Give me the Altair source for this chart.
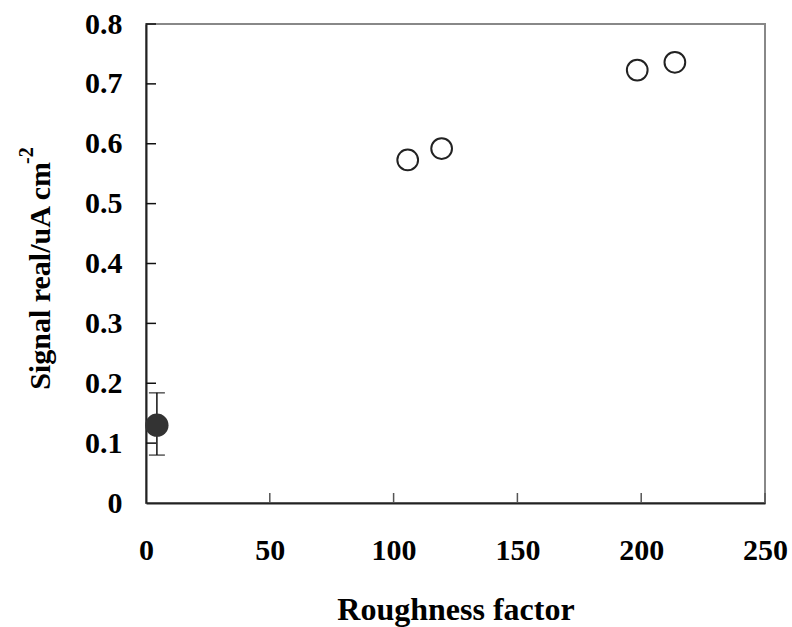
import altair as alt
import pandas as pd

# Reference electrode (filled) with its error bar
flat_x = [4.4]
flat_y = [0.130]
flat_lo = [0.080]
flat_hi = [0.184]

# Roughened electrodes (open circles)
rough_x = [105.7, 119.4, 198.4, 213.6]
rough_y = [0.573, 0.592, 0.723, 0.736]

x_ticks = [0, 50, 100, 150, 200, 250]
y_ticks = [0, 0.1, 0.2, 0.3, 0.4, 0.5, 0.6, 0.7, 0.8]

W, H = 619, 479
FONT = "Liberation Serif"

flat_df = pd.DataFrame({"x": flat_x, "y": flat_y, "lo": flat_lo, "hi": flat_hi})
rough_df = pd.DataFrame({"x": rough_x, "y": rough_y})

x_scale = alt.Scale(domain=[0, 250], nice=False, zero=False)
y_scale = alt.Scale(domain=[0, 0.8], nice=False, zero=False)

x_axis = alt.Axis(values=x_ticks, ticks=False, tickSize=0, grid=False,
                  labelPadding=32, title="Roughness factor", titlePadding=29,
                  labelFontSize=30, titleFontSize=32, labelFlush=False)
y_axis = alt.Axis(values=y_ticks, ticks=False, tickSize=0, grid=False,
                  labelPadding=24, title=None, labelFontSize=30,
                  labelExpr="datum.value == 0 ? '0' : format(datum.value, '.1f')",
                  labelFlush=False)

base_x = alt.X("x:Q", scale=x_scale, axis=x_axis)
base_y = alt.Y("y:Q", scale=y_scale, axis=y_axis)

rough = alt.Chart(rough_df).mark_point(
    shape="circle", filled=False, size=430, stroke="#222222", strokeWidth=2, opacity=1
).encode(x=base_x, y=base_y)

err = alt.Chart(flat_df).mark_rule(color="#111111", strokeWidth=1.5).encode(
    x=alt.X("x:Q", scale=x_scale), y=alt.Y("lo:Q", scale=y_scale), y2="hi:Q"
)
cap_lo = alt.Chart(flat_df).mark_tick(color="#111111", thickness=1.5, size=16, orient="horizontal").encode(
    x=alt.X("x:Q", scale=x_scale), y=alt.Y("lo:Q", scale=y_scale)
)
cap_hi = alt.Chart(flat_df).mark_tick(color="#111111", thickness=1.5, size=16, orient="horizontal").encode(
    x=alt.X("x:Q", scale=x_scale), y=alt.Y("hi:Q", scale=y_scale)
)
flat = alt.Chart(flat_df).mark_point(
    shape="circle", filled=True, size=540, color="#333333", opacity=1
).encode(x=alt.X("x:Q", scale=x_scale), y=alt.Y("y:Q", scale=y_scale))

# inward tick marks
xt_df = pd.DataFrame({"x": x_ticks[1:]})
yt_df = pd.DataFrame({"y": y_ticks[1:]})
x_tick_marks = alt.Chart(xt_df).mark_rule(color="#555555", strokeWidth=1.5).encode(
    x=alt.X("x:Q", scale=x_scale), y=alt.value(H), y2=alt.value(H - 10)
)
y_tick_marks = alt.Chart(yt_df).mark_rule(color="#111111", strokeWidth=1.5).encode(
    y=alt.Y("y:Q", scale=y_scale), x=alt.value(0), x2=alt.value(10)
)

# y-axis title with superscript exponent
ytitle = alt.Chart(pd.DataFrame({"t": ["Signal real/uA cm"]})).mark_text(
    angle=270, align="right", baseline="alphabetic", font=FONT, fontWeight="bold",
    fontSize=30, color="black"
).encode(text="t:N", x=alt.value(-96), y=alt.value(138))
ysup = alt.Chart(pd.DataFrame({"t": ["-2"]})).mark_text(
    angle=270, align="left", baseline="alphabetic", font=FONT, fontWeight="bold",
    fontSize=20, color="black"
).encode(text="t:N", x=alt.value(-113), y=alt.value(140))

chart = alt.layer(
    x_tick_marks, y_tick_marks, err, cap_lo, cap_hi, flat, rough, ytitle, ysup
).properties(
    width=W, height=H,
    background="white",
    autosize=alt.AutoSizeParams(type="none"),
    padding={"left": 146, "top": 24, "right": 27, "bottom": 124},
).configure_view(
    stroke="#888888", strokeWidth=2
).configure_axis(
    labelFont=FONT, titleFont=FONT, labelFontWeight="bold", titleFontWeight="bold",
    labelColor="black", titleColor="black", domainColor="#222222", domainWidth=2
)

chart.save("out.html", embed_options={"renderer": "svg", "actions": False})
